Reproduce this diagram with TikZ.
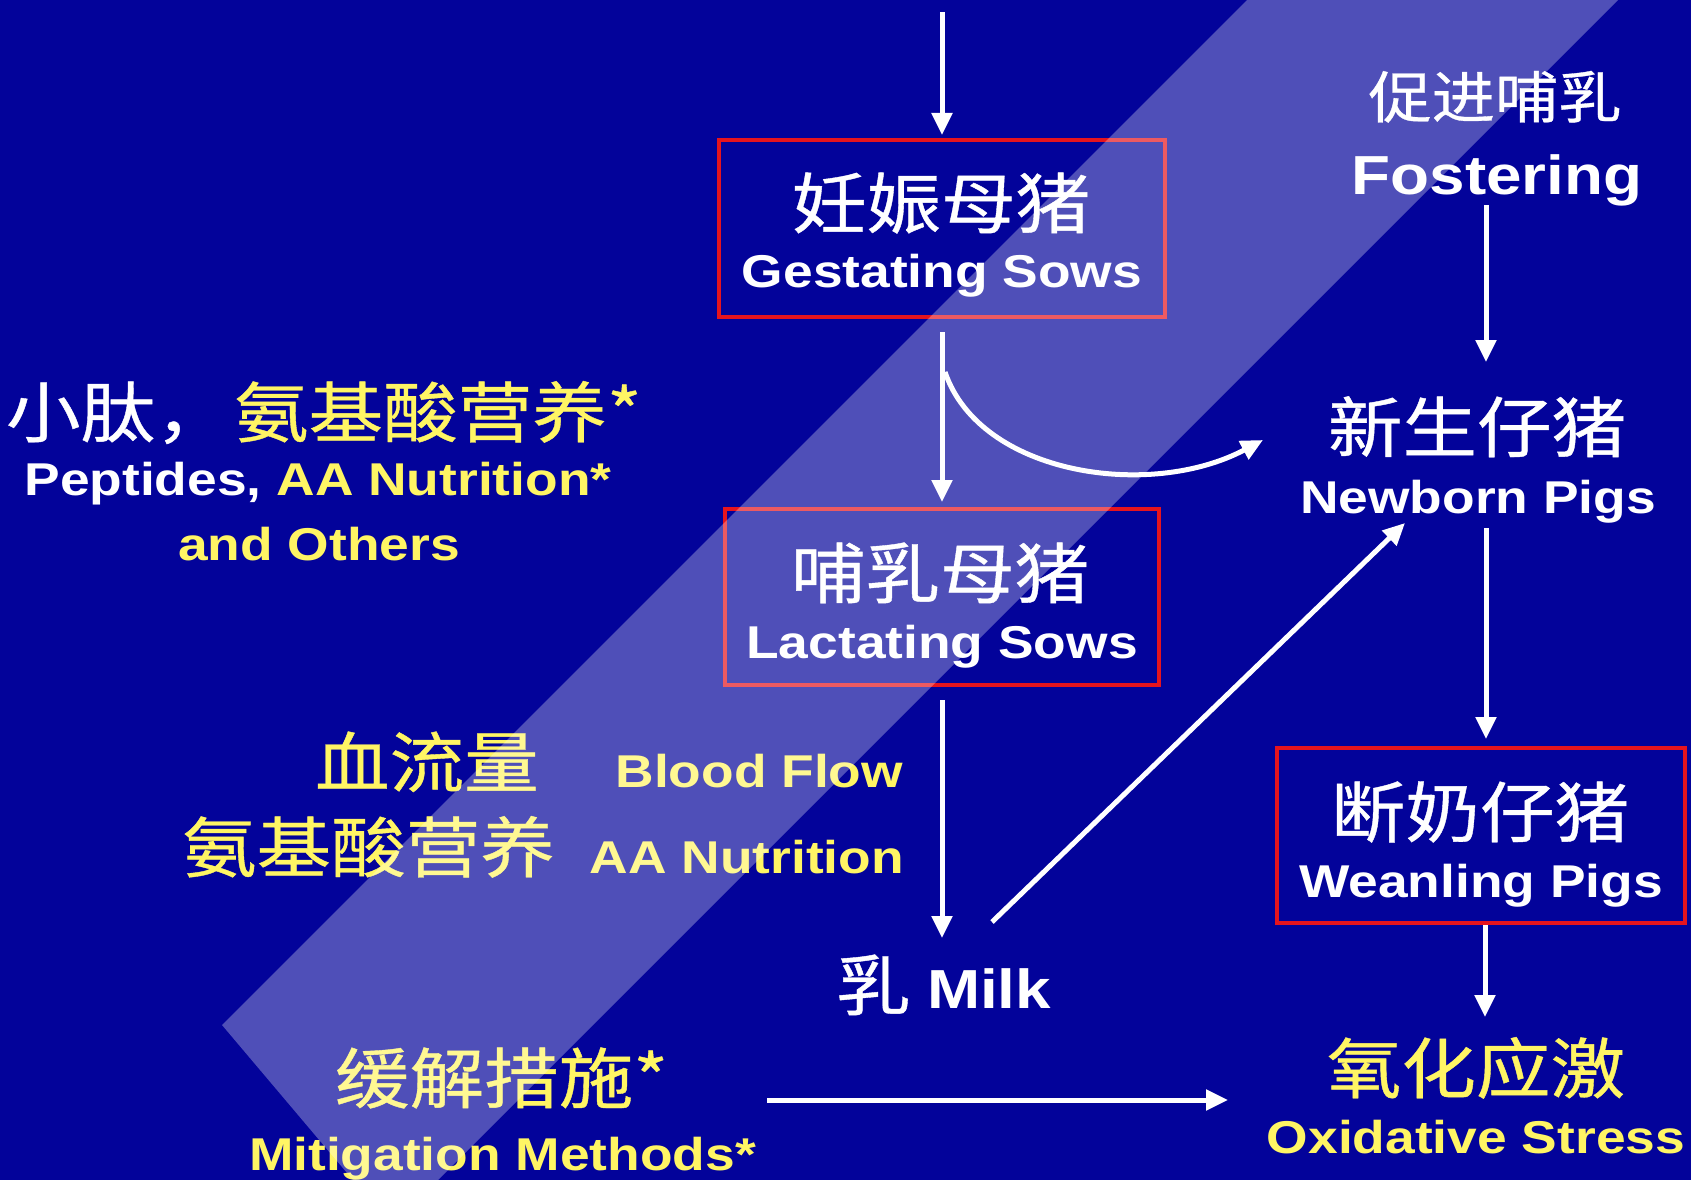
\documentclass[tikz,border=0pt]{standalone}
\usepackage{fontspec}
\usetikzlibrary{arrows.meta}
\setmainfont{Liberation Sans}
\newfontfamily\en[FakeStretch=1.16]{Liberation Sans}
\newfontfamily\cjk[FakeStretch=1.13,FakeBold=0.6]{Noto Sans CJK SC}
\definecolor{bg}{RGB}{3,3,154}
\definecolor{yel}{RGB}{255,245,100}
\definecolor{boxred}{RGB}{230,20,30}
\tikzset{
  cn/.style={font=\cjk\fontsize{66}{70}\selectfont, inner sep=0pt, outer sep=0pt, anchor=base},
  cnsmall/.style={font=\cjk\fontsize{56}{60}\selectfont, inner sep=0pt, outer sep=0pt, anchor=base},
  en/.style={font=\en\bfseries\fontsize{46}{50}\selectfont, inner sep=0pt, outer sep=0pt, anchor=base},
  enbig/.style={font=\en\bfseries\fontsize{55}{60}\selectfont, inner sep=0pt, outer sep=0pt, anchor=base},
  redbox/.style={draw=boxred, line width=4pt, inner sep=0pt},
  arr/.style={draw=white, line width=5pt, -{Triangle[width=20pt,length=22pt]}}
}
\begin{document}
\begin{tikzpicture}[x=1pt,y=-1pt]
\fill[bg] (0,0) rectangle (1691,1180);
\useasboundingbox (0,0) rectangle (1691,1180);

% boxes
\node[redbox, minimum width=446pt, minimum height=177pt] (gest) at (942,228.5) {};
\node[redbox, minimum width=434pt, minimum height=176pt] (lact) at (942,597) {};
\node[redbox, minimum width=408pt, minimum height=175pt] (wean) at (1481,835.5) {};

% texts
\node[cnsmall,text=white] (fostcn) at (1495,118) {促进哺乳};
\node[enbig,text=white] (fosten) at (1497,194) {Fostering};

\node[cn,text=white] (gestcn) at (941,228) {妊娠母猪};
\node[en,text=white] (gesten) at (942,287) {Gestating Sows};

\node[cn,text=white] (newcn) at (1477,452) {新生仔猪};
\node[en,text=white] (newen) at (1478,513) {Newborn Pigs};

\node[cn,text=white,anchor=base west] (pepcn) at (6,437) {小肽，};
\node[cn,text=yel,anchor=base west] (aacn) at (234,437) {氨基酸营养*};
\node[en] (pepen) at (318,495) {\textcolor{white}{Peptides,} \textcolor{yel}{AA Nutrition*}};
\node[en,text=yel] (others) at (319,560) {and Others};

\node[cn,text=white] (lactcn) at (940,598) {哺乳母猪};
\node[en,text=white] (lacten) at (942,658) {Lactating Sows};

\node[cn,text=yel,anchor=base west] (bloodcn) at (315,787) {血流量};
\node[en,text=yel,anchor=base east] (blooden) at (903,787) {Blood Flow};
\node[cn,text=yel,anchor=base west] (aa2cn) at (182,872) {氨基酸营养};
\node[en,text=yel,anchor=base east] (aa2en) at (904,873) {AA Nutrition};

\node[cn,text=white] (weancn) at (1480,837) {断奶仔猪};
\node[en,text=white] (weanen) at (1481,897) {Weanling Pigs};

\node[cn,text=white,anchor=base west] (milkcn) at (836,1010) {乳};
\node[enbig,text=white,anchor=base west] (milken) at (927,1008) {Milk};

\node[cn,text=yel] (oxcn) at (1476,1093) {氧化应激};
\node[en,text=yel] (oxen) at (1476,1153) {Oxidative Stress};

\node[cn,text=yel,anchor=base west] (mitcn) at (335,1103) {缓解措施*};
\node[en,text=yel,anchor=base west] (miten) at (249,1170) {Mitigation Methods*};

% connector end points
\coordinate (topin) at (942,12);
\coordinate (cstart) at (945,372);
\coordinate (cend) at (1263,440);
\coordinate (milktop) at (942,938);
\coordinate (milkdiag) at (992,922);
\coordinate (newdiag) at (1405,523);
\coordinate (fostdown) at (1486,205);
\coordinate (newtop) at (1486,362);
\coordinate (newdown) at (1486,528);
\coordinate (weantop) at (1486,739);
\coordinate (weandown) at (1485,925);
\coordinate (oxtop) at (1485,1017);
\coordinate (mitright) at (767,1100);
\coordinate (oxleft) at (1228,1100);

% connectors
\draw[arr, shorten >=3pt] (topin) -- (gest.north);
\draw[arr, shorten <=13pt, shorten >=5pt] (gest.south) -- (lact.north);
\draw[arr] (cstart) .. controls (980,475) and (1150,500) .. (cend);
\draw[arr, shorten <=13pt] (lact.south) -- (milktop);
\draw[arr] (milkdiag) -- (newdiag);
\draw[arr] (fostdown) -- (newtop);
\draw[arr] (newdown) -- (weantop);
\draw[arr] (weandown) -- (oxtop);
\draw[arr] (mitright) -- (oxleft);

% translucent watermark band
\fill[white, opacity=0.3] (222,1025) -- (1247,0) -- (1618,0) -- (438,1180) -- (353,1180) -- cycle;
\end{tikzpicture}
\end{document}
